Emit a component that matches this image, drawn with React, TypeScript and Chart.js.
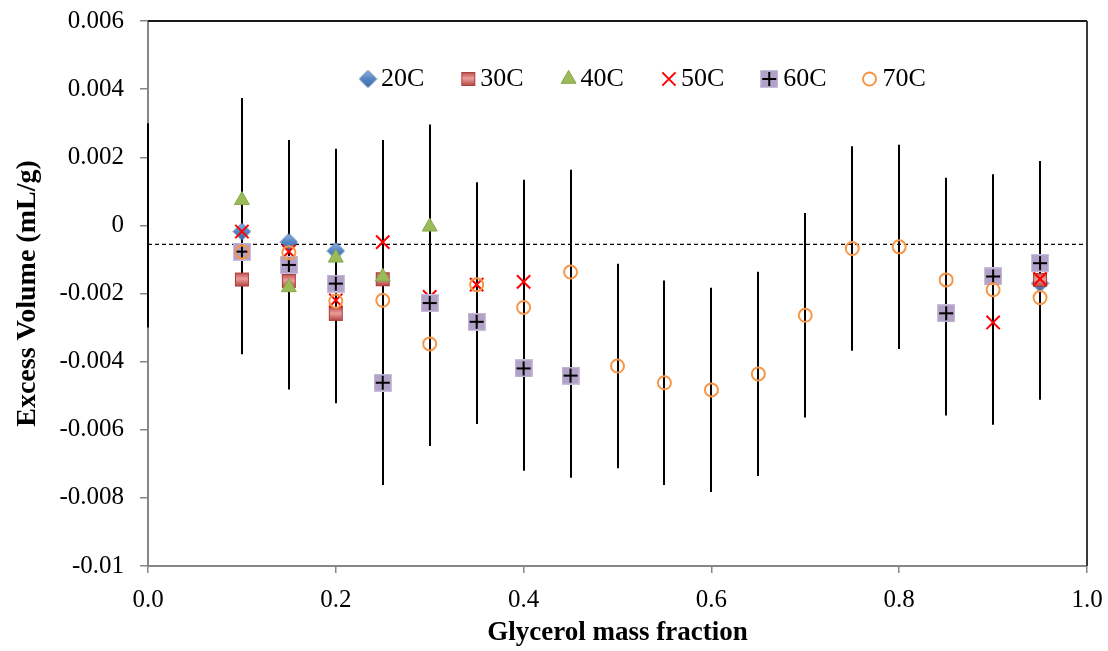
import React, { useEffect, useRef } from 'react';
import { Chart, registerables } from 'chart.js';

Chart.register(...registerables);

const FONT = "'Liberation Serif', 'Times New Roman', serif";

const SERIES_LABELS = ['20C', '30C', '40C', '50C', '60C', '70C'];

const X_20C = [0.1, 0.15, 0.2, 0.95];
const Y_20C = [-0.00018, -0.00049, -0.00075, -0.0017];

const X_30C = [0.1, 0.15, 0.2, 0.25, 0.95];
const Y_30C = [-0.00159, -0.00163, -0.0026, -0.00158, -0.0016];

const X_40C = [0.1, 0.15, 0.2, 0.25, 0.3];
const Y_40C = [0.00074, -0.00182, -0.00095, -0.00151, -0.00004];

const X_50C = [0.1, 0.15, 0.2, 0.25, 0.3, 0.35, 0.4, 0.9, 0.95];
const Y_50C = [-0.00018, -0.00077, -0.0022, -0.00049, -0.0021, -0.00174, -0.00166, -0.00285, -0.00157];

const X_60C = [0.1, 0.15, 0.2, 0.25, 0.3, 0.35, 0.4, 0.45, 0.85, 0.9, 0.95];
const Y_60C = [-0.00077, -0.00116, -0.00171, -0.00462, -0.00228, -0.00283, -0.0042, -0.00441, -0.00258, -0.0015, -0.00111];

const X_70C = [0.1, 0.15, 0.2, 0.25, 0.3, 0.35, 0.4, 0.45, 0.5, 0.55, 0.6, 0.65, 0.7, 0.75, 0.8, 0.85, 0.9, 0.95];
const Y_70C = [-0.00078, -0.0008, -0.00222, -0.0022, -0.00348, -0.00174, -0.00241, -0.00137, -0.00413, -0.00462, -0.00483, -0.00436, -0.00264, -0.00068, -0.00063, -0.0016, -0.00189, -0.00212];

// error bars drawn at the two ends of the axis
const X_BOUNDS = [0, 1];
const Y_BOUNDS = [0, 0];

const ERROR_HALF = 0.003;
const REF_LINE_Y = -0.00056;

const X_TICK_VALUES = [0, 0.2, 0.4, 0.6, 0.8, 1.0];
const Y_TICK_VALUES = [-0.01, -0.008, -0.006, -0.004, -0.002, 0, 0.002, 0.004, 0.006];

const X_TITLE = 'Glycerol mass fraction';
const Y_TITLE = 'Excess Volume (mL/g)';

const toPts = (xs: number[], ys: number[]) => xs.map((x, i) => ({ x, y: ys[i] }));

function makeCanvas(w: number, h: number, draw: (g: CanvasRenderingContext2D) => void) {
  const c = document.createElement('canvas');
  c.width = w;
  c.height = h;
  const g = c.getContext('2d') as CanvasRenderingContext2D;
  draw(g);
  return c;
}

function makeMarkers() {
  const diamond = makeCanvas(19, 19, (g) => {
    const gr = g.createLinearGradient(0, 1, 0, 18);
    gr.addColorStop(0, '#93B5E3');
    gr.addColorStop(0.5, '#5485C4');
    gr.addColorStop(1, '#3C6AA8');
    g.beginPath();
    g.moveTo(9.5, 1);
    g.lineTo(18, 9.5);
    g.lineTo(9.5, 18);
    g.lineTo(1, 9.5);
    g.closePath();
    g.fillStyle = gr;
    g.fill();
    g.strokeStyle = '#3F6CA6';
    g.lineWidth = 1;
    g.stroke();
  });
  const square = makeCanvas(16, 16, (g) => {
    const gr = g.createLinearGradient(0, 1, 0, 15);
    gr.addColorStop(0, '#BE4A47');
    gr.addColorStop(0.45, '#E8A09D');
    gr.addColorStop(1, '#B3403D');
    g.fillStyle = gr;
    g.fillRect(1, 1, 14, 14);
    g.strokeStyle = '#A93E3B';
    g.lineWidth = 1;
    g.strokeRect(1.5, 1.5, 13, 13);
  });
  const plusSquare = makeCanvas(18, 18, (g) => {
    g.fillStyle = '#B3A2C7';
    g.fillRect(0, 0, 18, 18);
    g.strokeStyle = '#C9BEDB';
    g.lineWidth = 1;
    g.strokeRect(0.5, 0.5, 17, 17);
    g.strokeStyle = '#000000';
    g.lineWidth = 2;
    g.beginPath();
    g.moveTo(2, 9);
    g.lineTo(16, 9);
    g.moveTo(9, 2);
    g.lineTo(9, 16);
    g.stroke();
  });
  return { diamond, square, plusSquare };
}

export default function App() {
  const ref = useRef<HTMLCanvasElement | null>(null);

  useEffect(() => {
    document.body.style.margin = '0';
    const canvas = ref.current;
    if (!canvas) return;
    const m = makeMarkers();

    const TRI_COLOR = '#9BBB59';
    const CROSS_COLOR = '#FF0000';
    const CIRCLE_COLOR = '#F79646';

    const datasets: any[] = [
      { label: SERIES_LABELS[0], data: toPts(X_20C, Y_20C), pointStyle: m.diamond, pointRadius: 9, order: 6, errorBars: true },
      { label: SERIES_LABELS[1], data: toPts(X_30C, Y_30C), pointStyle: m.square, pointRadius: 8, order: 5, errorBars: false },
      { label: SERIES_LABELS[2], data: toPts(X_40C, Y_40C), pointStyle: 'triangle', pointRadius: 8.6, backgroundColor: TRI_COLOR, borderColor: '#86A64A', pointBorderWidth: 1, order: 4, errorBars: true },
      { label: SERIES_LABELS[3], data: toPts(X_50C, Y_50C), pointStyle: 'crossRot', pointRadius: 9.4, borderColor: CROSS_COLOR, pointBorderWidth: 2, order: 3, errorBars: true },
      { label: SERIES_LABELS[4], data: toPts(X_60C, Y_60C), pointStyle: m.plusSquare, pointRadius: 9, order: 2, errorBars: true },
      { label: SERIES_LABELS[5], data: toPts(X_70C, Y_70C), pointStyle: 'circle', pointRadius: 6.5, backgroundColor: 'rgba(0,0,0,0)', borderColor: CIRCLE_COLOR, pointBorderWidth: 2, order: 1, errorBars: true },
      { label: '', data: toPts(X_BOUNDS, Y_BOUNDS), pointRadius: 0, order: 10, errorBars: true },
    ];

    const barsPlugin = {
      id: 'barsAndRef',
      beforeDatasetsDraw(chart: any) {
        const { ctx, chartArea, scales } = chart;
        const xs = scales.x;
        const ys = scales.y;
        ctx.save();
        const ry = ys.getPixelForValue(REF_LINE_Y);
        ctx.strokeStyle = '#000';
        ctx.lineWidth = 1.3;
        ctx.setLineDash([4, 3]);
        ctx.beginPath();
        ctx.moveTo(chartArea.left, ry);
        ctx.lineTo(chartArea.right, ry);
        ctx.stroke();
        ctx.setLineDash([]);
        ctx.strokeStyle = '#000';
        ctx.lineWidth = 2;
        chart.data.datasets.forEach((ds: any) => {
          if (!ds.errorBars) return;
          ds.data.forEach((p: any) => {
            const px = Math.round(xs.getPixelForValue(p.x));
            const t = ys.getPixelForValue(p.y + ERROR_HALF);
            const b = ys.getPixelForValue(p.y - ERROR_HALF);
            ctx.beginPath();
            ctx.moveTo(px, t);
            ctx.lineTo(px, b);
            ctx.stroke();
          });
        });
        ctx.restore();
      },
    };

    const framePlugin = {
      id: 'frameAndLegend',
      afterDraw(chart: any) {
        const { ctx, chartArea } = chart;
        ctx.save();
        ctx.strokeStyle = '#1a1a1a';
        ctx.lineWidth = 2;
        ctx.beginPath();
        ctx.moveTo(chartArea.left, chartArea.top);
        ctx.lineTo(chartArea.right, chartArea.top);
        ctx.stroke();
        ctx.strokeStyle = '#3a3a3a';
        ctx.beginPath();
        ctx.moveTo(chartArea.right, chartArea.top);
        ctx.lineTo(chartArea.right, chartArea.bottom);
        ctx.stroke();

        // legend
        const ly = chartArea.top + 58;
        const x0 = chartArea.left + 220;
        const step = 100.3;
        ctx.font = `26px ${FONT}`;
        ctx.fillStyle = '#000';
        ctx.textBaseline = 'middle';
        ctx.textAlign = 'left';
        SERIES_LABELS.forEach((label, i) => {
          const mx = x0 + step * i;
          let half = 8;
          if (i === 0) {
            ctx.drawImage(m.diamond, mx - 9.5, ly - 9.5);
            half = 9;
          } else if (i === 1) {
            ctx.drawImage(m.square, mx - 8, ly - 8);
            half = 8;
          } else if (i === 2) {
            const r = 8.6;
            ctx.beginPath();
            ctx.moveTo(mx, ly - r);
            ctx.lineTo(mx + r * Math.sin((2 * Math.PI) / 3), ly + r / 2);
            ctx.lineTo(mx - r * Math.sin((2 * Math.PI) / 3), ly + r / 2);
            ctx.closePath();
            ctx.fillStyle = TRI_COLOR;
            ctx.fill();
            ctx.strokeStyle = '#86A64A';
            ctx.lineWidth = 1;
            ctx.stroke();
            half = 8;
          } else if (i === 3) {
            const d = 6.6;
            ctx.strokeStyle = CROSS_COLOR;
            ctx.lineWidth = 2;
            ctx.beginPath();
            ctx.moveTo(mx - d, ly - d);
            ctx.lineTo(mx + d, ly + d);
            ctx.moveTo(mx + d, ly - d);
            ctx.lineTo(mx - d, ly + d);
            ctx.stroke();
            half = 8;
          } else if (i === 4) {
            ctx.drawImage(m.plusSquare, mx - 9, ly - 9);
            half = 10;
          } else {
            ctx.strokeStyle = CIRCLE_COLOR;
            ctx.lineWidth = 2;
            ctx.beginPath();
            ctx.arc(mx, ly, 6.5, 0, Math.PI * 2);
            ctx.stroke();
            half = 9;
          }
          ctx.fillStyle = '#000';
          ctx.fillText(label, mx + half + 4, ly);
        });
        ctx.restore();
      },
    };

    const chart = new Chart(canvas, {
      type: 'scatter',
      data: { datasets },
      options: {
        responsive: false,
        animation: false,
        events: [],
        layout: { padding: { left: 0, top: 21, right: 21, bottom: 0 } },
        plugins: { legend: { display: false }, tooltip: { enabled: false } },
        scales: {
          x: {
            type: 'linear',
            position: 'bottom',
            min: 0,
            max: 1,
            afterBuildTicks: (s: any) => {
              s.ticks = X_TICK_VALUES.map((v) => ({ value: v }));
            },
            afterFit: (s: any) => {
              s.height = 85;
              s.paddingLeft = 0;
              s.paddingRight = 0;
            },
            ticks: {
              callback: (v: any) => Number(v).toFixed(1),
              font: { family: FONT, size: 25 },
              color: '#000',
              padding: 12,
              maxRotation: 0,
              autoSkip: false,
            },
            grid: { display: true, drawOnChartArea: false, drawTicks: true, tickLength: 7, color: '#868686', lineWidth: 1.5 },
            border: { display: true, color: '#868686', width: 2 },
            title: {
              display: true,
              text: X_TITLE,
              font: { family: FONT, size: 27, weight: 'bold' },
              color: '#000',
              padding: { top: 0, bottom: 2 },
            },
          },
          y: {
            type: 'linear',
            position: 'left',
            min: -0.01,
            max: 0.006,
            afterBuildTicks: (s: any) => {
              s.ticks = Y_TICK_VALUES.map((v) => ({ value: v }));
            },
            afterFit: (s: any) => {
              s.width = 148;
              s.paddingTop = 0;
              s.paddingBottom = 0;
            },
            ticks: {
              callback: (v: any) => String(Number(Number(v).toFixed(3))),
              font: { family: FONT, size: 25 },
              color: '#000',
              padding: 16,
              autoSkip: false,
            },
            grid: { display: true, drawOnChartArea: false, drawTicks: true, tickLength: 8, color: '#868686', lineWidth: 1.5 },
            border: { display: true, color: '#868686', width: 2 },
            title: {
              display: true,
              text: Y_TITLE,
              font: { family: FONT, size: 28, weight: 'bold' },
              color: '#000',
              padding: { top: 11, bottom: 0 },
            },
          },
        },
      } as any,
      plugins: [barsPlugin, framePlugin],
    });

    return () => chart.destroy();
  }, []);

  return (
    <div style={{ width: 1108, height: 651, position: 'relative' }}>
      <canvas ref={ref} width={1108} height={651} style={{ display: 'block' }} />
    </div>
  );
}
